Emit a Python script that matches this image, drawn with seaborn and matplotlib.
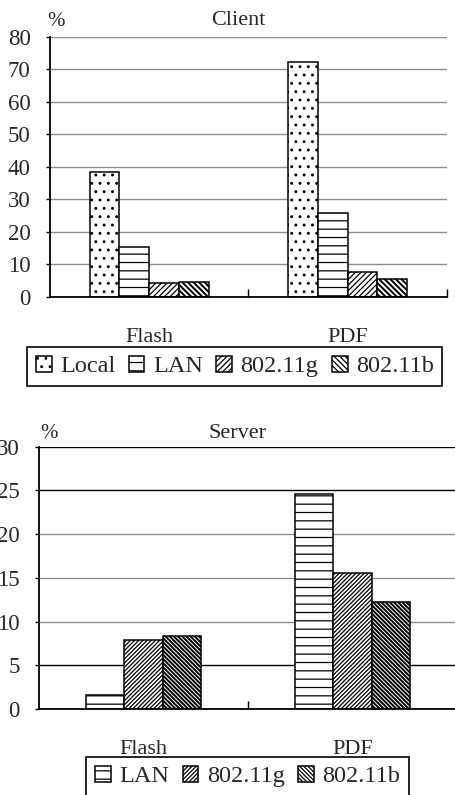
import numpy as np
import pandas as pd
import matplotlib
matplotlib.use("Agg")
import matplotlib.pyplot as plt
import seaborn as sns

sns.set_style("white")
plt.rcParams['font.family'] = ['Liberation Serif', 'DejaVu Serif']
plt.rcParams['hatch.linewidth'] = 0.9
plt.rcParams['hatch.color'] = 'black'

# data (percent)
apps = ["Flash", "PDF"]

client_nets = ["Local", "LAN", "802.11g", "802.11b"]
client_flash = [38.4, 15.3, 4.4, 4.5]
client_pdf = [72.3, 25.7, 7.8, 5.4]

server_nets = ["LAN", "802.11g", "802.11b"]
server_flash = [1.6, 7.9, 8.3]
server_pdf = [24.6, 15.6, 12.2]

# hatch per network
hatch_client = {"Local": "..", "LAN": "--", "802.11g": "/" * 6, "802.11b": "\\" * 6}
hatch_server = {"LAN": "--", "802.11g": "/" * 8, "802.11b": "\\" * 8}
hatch_lw = {"Local": 0.9, "LAN": 0.9, "802.11g": 0.9, "802.11b": 1.4}


def panel(ax, nets, flash, pdf, hatches, ymax, step, width):
    df = pd.DataFrame({"app": np.repeat(apps, len(nets)),
                       "net": nets * 2,
                       "val": flash + pdf})
    sns.barplot(data=df, x="app", y="val", hue="net", order=apps, hue_order=nets,
                palette=["white"] * len(nets), saturation=1, edgecolor="black",
                linewidth=1.1, width=width, legend=False, ax=ax)
    for cont, n in zip(ax.containers, nets):
        for p in cont:
            p.set_hatch(hatches[n])
            if hasattr(p, "set_hatch_linewidth"):
                p.set_hatch_linewidth(hatch_lw[n])
    ax.set_ylim(0, ymax)
    ax.set_yticks(np.arange(0, ymax + 1, step))
    ax.yaxis.grid(True, color="#8c8c8c", lw=1)
    ax.set_axisbelow(True)
    ax.set_xlabel("")
    ax.set_ylabel("")
    for s in ["top", "right"]:
        ax.spines[s].set_visible(False)
    for s in ["left", "bottom"]:
        ax.spines[s].set_color("black")
        ax.spines[s].set_linewidth(1.3)
    ax.set_xticks([0.5, 1.5], minor=True)
    ax.tick_params(axis="x", which="major", length=0, pad=22, labelsize=16)
    ax.tick_params(axis="x", which="minor", direction="in", length=6, width=1,
                   color="black", bottom=True)
    ax.tick_params(axis="y", length=3, width=1, color="black", left=True,
                   pad=11, labelsize=16.5)


fig = plt.figure(figsize=(4.56, 7.95), dpi=100)

# Client
ax1 = fig.add_axes([0.1096, 0.6264, 0.8706, 0.3274])
panel(ax1, client_nets, client_flash, client_pdf, hatch_client, 80, 10, 0.6)
ax1.text(0.474, 1.064, "Client", transform=ax1.transAxes, ha="center", va="center", fontsize=16)
ax1.text(0.015, 1.058, "%", transform=ax1.transAxes, ha="center", va="center", fontsize=15)
leg1 = fig.legend(handles=ax1.containers, labels=client_nets, loc="center",
                  bbox_to_anchor=(0.515, 0.539), ncol=4, fancybox=False, framealpha=1,
                  edgecolor="black", fontsize=17.5, handlelength=0.65, handleheight=0.65,
                  handletextpad=0.35, columnspacing=0.55, borderpad=0.35, borderaxespad=0)
leg1.get_frame().set_linewidth(1.2)

# Server
ax2 = fig.add_axes([0.0855, 0.1082, 0.9167, 0.33])
panel(ax2, server_nets, server_flash, server_pdf, hatch_server, 30, 5, 0.55)
for i in [1, 5, 6]:
    ax2.get_ygridlines()[i].set_color("black")
ax2.text(0.476, 1.05, "Server", transform=ax2.transAxes, ha="center", va="center", fontsize=16)
ax2.text(0.024, 1.05, "%", transform=ax2.transAxes, ha="center", va="center", fontsize=15)
leg2 = fig.legend(handles=ax2.containers, labels=server_nets, loc="upper center",
                  bbox_to_anchor=(0.543, 0.0478), ncol=3, fancybox=False, framealpha=1,
                  edgecolor="black", fontsize=17.5, handlelength=0.65, handleheight=0.65,
                  handletextpad=0.35, columnspacing=0.55, borderpad=0.35, borderaxespad=0)
leg2.get_frame().set_linewidth(1.2)

fig.savefig("out.png", dpi=100)
plt.close(fig)
